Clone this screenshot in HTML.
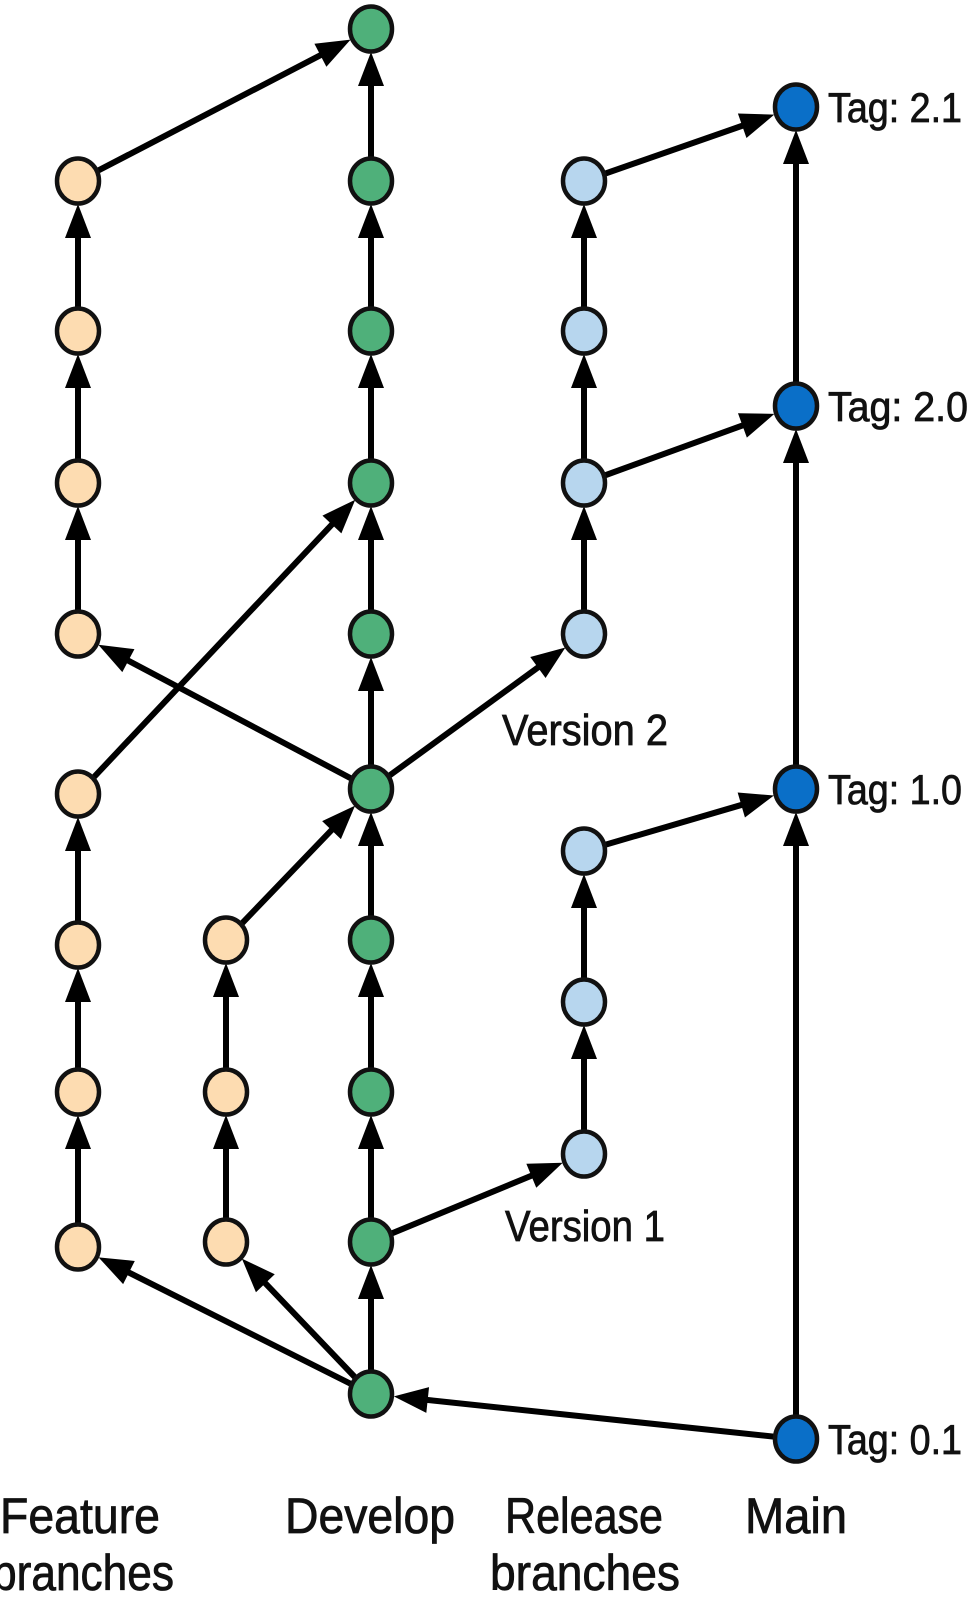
<!DOCTYPE html>
<html><head><meta charset="utf-8"><style>
html,body{margin:0;padding:0;background:#fff;}
svg{display:block;}
text{font-family:"Liberation Sans Narrow","Liberation Sans",sans-serif;fill:#111;stroke:#111;stroke-width:0.8;}
</style></head><body>
<svg id="s" width="977" height="1619" viewBox="0 0 977 1619" xmlns="http://www.w3.org/2000/svg">
<g id="edges"></g><g id="nodes"></g>
<text x="828" y="122" font-size="42" textLength="134" lengthAdjust="spacingAndGlyphs">Tag: 2.1</text>
<text x="828" y="421" font-size="42" textLength="140" lengthAdjust="spacingAndGlyphs">Tag: 2.0</text>
<text x="828" y="804" font-size="42" textLength="134" lengthAdjust="spacingAndGlyphs">Tag: 1.0</text>
<text x="828" y="1454" font-size="42" textLength="134" lengthAdjust="spacingAndGlyphs">Tag: 0.1</text>
<text x="502" y="745" font-size="44" textLength="166" lengthAdjust="spacingAndGlyphs">Version 2</text>
<text x="505" y="1241" font-size="44" textLength="160" lengthAdjust="spacingAndGlyphs">Version 1</text>
<text x="0" y="1533" font-size="50" textLength="160" lengthAdjust="spacingAndGlyphs">Feature</text>
<text x="-8" y="1590" font-size="50" textLength="182" lengthAdjust="spacingAndGlyphs">branches</text>
<text x="285" y="1533" font-size="50" textLength="170" lengthAdjust="spacingAndGlyphs">Develop</text>
<text x="505" y="1533" font-size="50" textLength="158" lengthAdjust="spacingAndGlyphs">Release</text>
<text x="490" y="1590" font-size="50" textLength="190" lengthAdjust="spacingAndGlyphs">branches</text>
<text x="745" y="1533" font-size="50" textLength="102" lengthAdjust="spacingAndGlyphs">Main</text>
</svg>
<script>
var F1=78,F2=226,D=371,R=584,M=796;
var C={f:"#fddcb1",d:"#4fb07a",r:"#b7d6ee",m:"#0a6fc8"};
var N={};
function n(id,x,y,c){N[id]=[x,y,c];}
[181,331,483,634,794,945,1092,1247].forEach(function(y,i){n("f"+i,F1,y,C.f);});
[940,1092,1242].forEach(function(y,i){n("g"+i,F2,y,C.f);});
[29,181,331,483,634,789,940,1092,1242,1394].forEach(function(y,i){n("d"+i,D,y,C.d);});
[181,331,483,634,851,1002,1154].forEach(function(y,i){n("r"+i,R,y,C.r);});
[107,406,789,1439].forEach(function(y,i){n("m"+i,M,y,C.m);});
var E=[["f1","f0"],["f2","f1"],["f3","f2"],["f5","f4"],["f6","f5"],["f7","f6"],
["g1","g0"],["g2","g1"],
["d1","d0"],["d2","d1"],["d3","d2"],["d4","d3"],["d5","d4"],["d6","d5"],["d7","d6"],["d8","d7"],["d9","d8"],
["r1","r0"],["r2","r1"],["r3","r2"],["r5","r4"],["r6","r5"],
["m1","m0"],["m2","m1"],["m3","m2"],
["f0","d0"],["r0","m0"],["r2","m1"],["r4","m2"],["d5","f3"],["d5","r3"],["f4","d3"],["g0","d5"],["d8","r6"],["d9","f7"],["d9","g2"],["m3","d9"]];
var ns="http://www.w3.org/2000/svg",eg=document.getElementById("edges"),ng=document.getElementById("nodes");
function el(t,a,p){var e=document.createElementNS(ns,t);for(var k in a)e.setAttribute(k,a[k]);p.appendChild(e);return e;}
var rr=23;
E.forEach(function(e){var a=N[e[0]],b=N[e[1]];var dx=b[0]-a[0],dy=b[1]-a[1],L=Math.hypot(dx,dy),ux=dx/L,uy=dy/L;
 var tx=b[0]-ux*rr,ty=b[1]-uy*rr,bx=tx-ux*34,by=ty-uy*34,px=-uy*13,py=ux*13;
 el("line",{x1:a[0],y1:a[1],x2:bx+ux*2,y2:by+uy*2,stroke:"#000","stroke-width":6},eg);
 el("polygon",{points:tx+","+ty+" "+(bx+px)+","+(by+py)+" "+(bx-px)+","+(by-py),fill:"#000"},eg);});
for(var k in N){var v=N[k];el("ellipse",{cx:v[0],cy:v[1],rx:21,ry:22.5,fill:v[2],stroke:"#111","stroke-width":4.5},ng);}
</script>
</body></html>
